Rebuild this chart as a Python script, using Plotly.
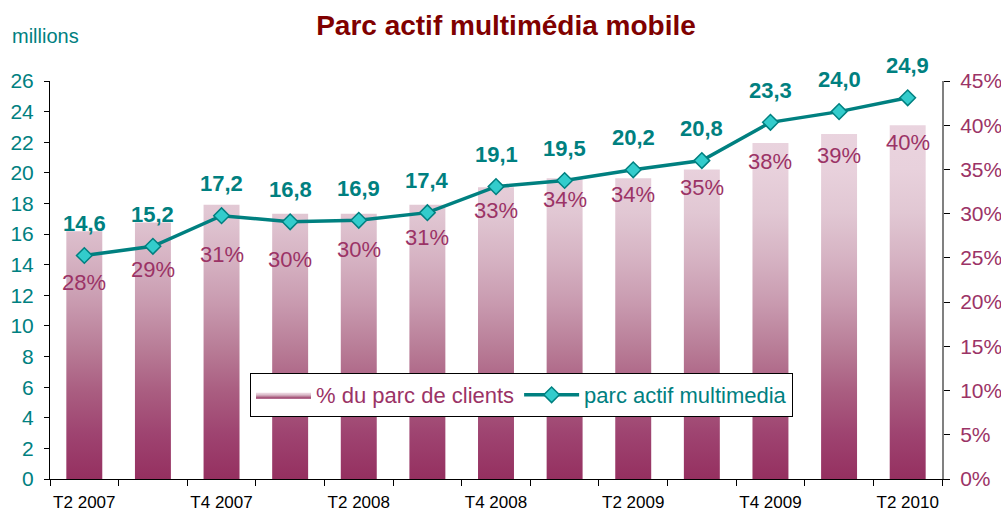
import plotly.graph_objects as go

# ---------------- data ----------------
quarters = ["T2 2007", "T3 2007", "T4 2007", "T1 2008", "T2 2008", "T3 2008", "T4 2008",
            "T1 2009", "T2 2009", "T3 2009", "T4 2009", "T1 2010", "T2 2010"]
tick_labels = ["T2 2007", "", "T4 2007", "", "T2 2008", "", "T4 2008",
               "", "T2 2009", "", "T4 2009", "", "T2 2010"]
parc_actif = [14.6, 15.2, 17.2, 16.8, 16.9, 17.4, 19.1, 19.5, 20.2, 20.8, 23.3, 24.0, 24.9]
pct_clients = [28, 29, 31, 30, 30, 31, 33, 34, 34, 35, 38, 39, 40]

# ---------------- style ----------------
FONT = "Liberation Sans, Arial, sans-serif"
TEAL = "#008080"
MAROON = "#9b3366"
bar_half = 0.262
pct_label_drop = [51, 47, 50, 46, 36, 33, 23, 21, 16, 18, 19, 21, 17]
line_label_rise = 32

idx = list(range(len(quarters)))

# bars as filled rectangles (gradient fill), built from the data
bx, by = [], []
for i, v in zip(idx, pct_clients):
    bx += [i - bar_half, i - bar_half, i + bar_half, i + bar_half, i - bar_half, None]
    by += [0, v, v, 0, 0, None]

fig = go.Figure()
fig.add_trace(go.Scatter(
    x=bx, y=by, mode="lines", fill="toself", line=dict(width=0),
    fillgradient=dict(type="vertical", start=0, stop=40,
                      colorscale=[[0, "#953060"], [0.125, "#9e4370"], [0.25, "#aa5e81"],
                                  [0.375, "#b97e98"], [0.5, "#c99bb0"], [0.625, "#d6b3c3"],
                                  [0.75, "#e1c7d3"], [0.875, "#e8d1dc"], [1, "#ead4df"]]),
    name='<span style="color:%s">%% du parc de clients</span>' % MAROON,
    yaxis="y", hoverinfo="skip",
))
fig.add_trace(go.Scatter(
    x=idx, y=parc_actif, mode="lines+markers", yaxis="y2",
    line=dict(color=TEAL, width=3.5),
    marker=dict(symbol="diamond", size=12, color="#33cccc", line=dict(color=TEAL, width=1.5)),
    name='<span style="color:%s">parc actif multimedia</span>' % TEAL,
))

plot_l, plot_r, plot_t, plot_b = 50, 942, 81, 479

annotations = []
for i, v in zip(idx, parc_actif):
    annotations.append(dict(x=i, y=v, xref="x", yref="y2", text="<b>%s</b>" % f"{v:.1f}".replace(".", ","),
                            showarrow=False, yshift=line_label_rise,
                            font=dict(family=FONT, size=22, color=TEAL)))
for i, v, d in zip(idx, pct_clients, pct_label_drop):
    annotations.append(dict(x=i, y=v, xref="x", yref="y", text=f"{v}%",
                            showarrow=False, yshift=-d,
                            font=dict(family=FONT, size=22, color=MAROON)))
annotations.append(dict(x=(10 - plot_l) / (plot_r - plot_l), y=(plot_b - 36) / (plot_b - plot_t),
                        xref="paper", yref="paper", text="millions",
                        showarrow=False, xanchor="left", yanchor="middle",
                        font=dict(family=FONT, size=20, color=TEAL)))

fig.update_layout(
    template="none",
    width=1001, height=513,
    margin=dict(l=plot_l, r=1001 - plot_r, t=plot_t, b=513 - plot_b),
    paper_bgcolor="white", plot_bgcolor="white",
    title=dict(text="<b>Parc actif multimédia mobile</b>", xref="container", yref="container",
               x=506 / 1001, y=1 - 25 / 513, xanchor="center", yanchor="middle",
               font=dict(family=FONT, size=28, color="#800000")),
    font=dict(family=FONT),
    showlegend=True,
    legend=dict(orientation="h", x=(250 - plot_l) / (plot_r - plot_l),
                y=(plot_b - 373) / (plot_b - plot_t), xanchor="left", yanchor="top",
                bgcolor="white", bordercolor="black", borderwidth=1,
                font=dict(family=FONT, size=22), itemwidth=55, tracegroupgap=0),
    xaxis=dict(range=[-0.5, len(quarters) - 0.5], tickmode="array", tickvals=idx, ticktext=tick_labels,
               ticks="", showline=True, linecolor="black", linewidth=1, showgrid=False, zeroline=False,
               tickfont=dict(family=FONT, size=17, color="black"), ticklabelstandoff=8,
               automargin=False,
               minor=dict(tickmode="array", tickvals=[i - 0.5 for i in range(len(quarters) + 1)],
                          ticks="outside", ticklen=6, tickcolor="black", showgrid=False)),
    yaxis=dict(range=[0, 45], dtick=5, ticksuffix="%", side="right", showline=True,
               linecolor="#808080", linewidth=2, ticks="outside", ticklen=6, tickcolor="black",
               showgrid=False, zeroline=False, automargin=False, ticklabelstandoff=6,
               tickfont=dict(family=FONT, size=21, color=MAROON)),
    yaxis2=dict(range=[0, 26], dtick=2, overlaying="y", side="left", showline=True,
                linecolor="black", linewidth=1, ticks="outside", ticklen=5, tickcolor="black",
                showgrid=False, zeroline=False, automargin=False, ticklabelstandoff=6,
                tickfont=dict(family=FONT, size=21, color=TEAL)),
    annotations=annotations,
)

fig.write_html("out.html", config={"displayModeBar": False},
               post_script="document.body.style.margin='0';document.body.style.overflow='hidden';")
